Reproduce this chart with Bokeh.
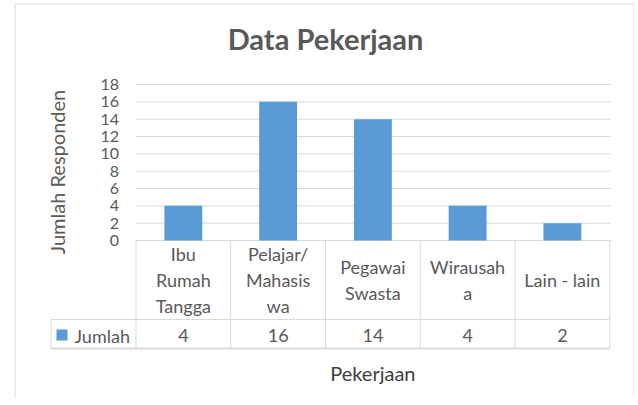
import math
from bokeh.plotting import figure
from bokeh.models import Range1d, LinearAxis, FixedTicker, Label
from bokeh.core.properties import value
from bokeh.embed import file_html
from bokeh.resources import INLINE

# ---------------- data ----------------
CATEGORIES = ["Ibu Rumah Tangga", "Pelajar/Mahasiswa", "Pegawai Swasta", "Wirausaha", "Lain - lain"]
CATEGORY_LABELS = ["Ibu\nRumah\nTangga", "Pelajar/\nMahasis\nwa", "Pegawai\nSwasta", "Wirausah\na", "Lain - lain"]
JUMLAH = [4, 16, 14, 4, 2]
Y_TICKS = [0, 2, 4, 6, 8, 10, 12, 14, 16, 18]
SERIES_NAME = "Jumlah"
TITLE = "Data Pekerjaan"
Y_TITLE = "Jumlah Responden"
X_TITLE = "Pekerjaan"

# ---------------- layout constants (page pixels) ----------------
W, H = 634, 397
PX_LEFT, PX_TOP = 0, 0
COL0, COLW = 135.5, 94.75    # left edge of first category column, column width
Y0, PPU = 240.0, 156.0 / 18  # pixel of value 0, pixels per unit

BAR_COLOR = "#5b9bd5"
TEXT_COLOR = "#595959"
LINE_COLOR = "#d9d9d9"
FONT = "Lato"

n = len(CATEGORIES)
xs = [i + 0.5 for i in range(n)]


def tx(px):  # page x -> category units
    return (px - COL0) / COLW


def ty(py):  # page y -> table pixel units (upwards)
    return Y0 - py


p = figure(
    width=W, height=H,
    x_range=Range1d(tx(PX_LEFT), tx(PX_LEFT + W)),
    y_range=Range1d(-(PX_TOP + H - Y0) / PPU, (Y0 - PX_TOP) / PPU),
    x_axis_type=None, y_axis_type=None,
    toolbar_location=None, output_backend="svg",
    min_border=0, outline_line_color=None,
    background_fill_color="white", border_fill_color="white",
)
p.extra_y_ranges = {"px": Range1d(ty(PX_TOP + H), ty(PX_TOP))}
p.extra_x_ranges = {"px": Range1d(PX_LEFT, PX_LEFT + W)}

# y axis, anchored at the left edge of the category area
yaxis = LinearAxis(
    ticker=FixedTicker(ticks=Y_TICKS), fixed_location=0,
    axis_line_color=None, major_tick_line_color=None, minor_tick_line_color=None,
    major_tick_in=0, major_tick_out=0, major_label_standoff=17,
    major_label_text_font=FONT, major_label_text_font_size="16px",
    major_label_text_color=TEXT_COLOR,
)
p.add_layout(yaxis, "left")

# y axis title (centred on the value area)
p.add_layout(Label(x=56, y=ty(171.5), x_range_name="px", y_range_name="px", text=Y_TITLE,
                   angle=math.pi / 2, text_font=FONT, text_font_size="20px",
                   text_color=TEXT_COLOR, text_align="center", text_baseline="middle"))

# gridlines
p.segment(x0=[0] * len(Y_TICKS), x1=[n + 0.01] * len(Y_TICKS), y0=Y_TICKS, y1=Y_TICKS,
          line_color=LINE_COLOR, line_width=1)

# bars
p.vbar(x=xs, top=JUMLAH, bottom=0, width=0.4, fill_color=BAR_COLOR, line_color=None)

# outer chart border
p.segment(x0=[14.5, 14.5, 633.5], x1=[14.5, 633.5, 633.5],
          y0=[ty(PX_TOP + H), ty(3.5), ty(3.5)], y1=[ty(3.5), ty(3.5), ty(PX_TOP + H)],
          x_range_name="px", y_range_name="px", line_color=LINE_COLOR, line_width=1)

# data table lines
HEADER_BOTTOM, TABLE_BOTTOM = ty(319), ty(348)
leg_left = tx(50.5)
p.segment(x0=list(range(n + 1)), x1=list(range(n + 1)),
          y0=[0] * (n + 1), y1=[TABLE_BOTTOM] * (n + 1),
          y_range_name="px", line_color=LINE_COLOR, line_width=1)
p.segment(x0=[leg_left, leg_left], x1=[leg_left, n], y0=[HEADER_BOTTOM, HEADER_BOTTOM],
          y1=[TABLE_BOTTOM, HEADER_BOTTOM], y_range_name="px", line_color=LINE_COLOR, line_width=1)
p.segment(x0=[leg_left], x1=[n], y0=[TABLE_BOTTOM], y1=[TABLE_BOTTOM],
          y_range_name="px", line_color=LINE_COLOR, line_width=2)

# table texts
p.text(x=xs, y=[ty(279.5)] * n, text=CATEGORY_LABELS, y_range_name="px",
       text_font=value(FONT), text_font_size="18px", text_color=TEXT_COLOR,
       text_align="center", text_baseline="middle", text_line_height=1.2)
p.text(x=xs, y=[ty(335)] * n, text=[str(v) for v in JUMLAH], y_range_name="px",
       text_font=value(FONT), text_font_size="18px", text_color=TEXT_COLOR,
       text_align="center", text_baseline="middle")
p.scatter(x=[61.5], y=[ty(334.5)], marker="square", size=11, fill_color=BAR_COLOR,
          line_color=None, x_range_name="px", y_range_name="px")
p.text(x=[74], y=[ty(335)], text=[SERIES_NAME], x_range_name="px", y_range_name="px",
       text_font=value(FONT), text_font_size="18px", text_color=TEXT_COLOR,
       text_align="left", text_baseline="middle")

# titles
p.add_layout(Label(x=325, y=ty(38), x_range_name="px", y_range_name="px", text=TITLE,
                   text_font=FONT, text_font_size="29px", text_font_style="bold",
                   text_color=TEXT_COLOR, text_align="center", text_baseline="middle"))
p.add_layout(Label(x=n / 2, y=ty(372), y_range_name="px", text=X_TITLE,
                   text_font=FONT, text_font_size="20px", text_color="#404040",
                   text_align="center", text_baseline="middle"))

open("out.html", "w").write(file_html(p, INLINE))
